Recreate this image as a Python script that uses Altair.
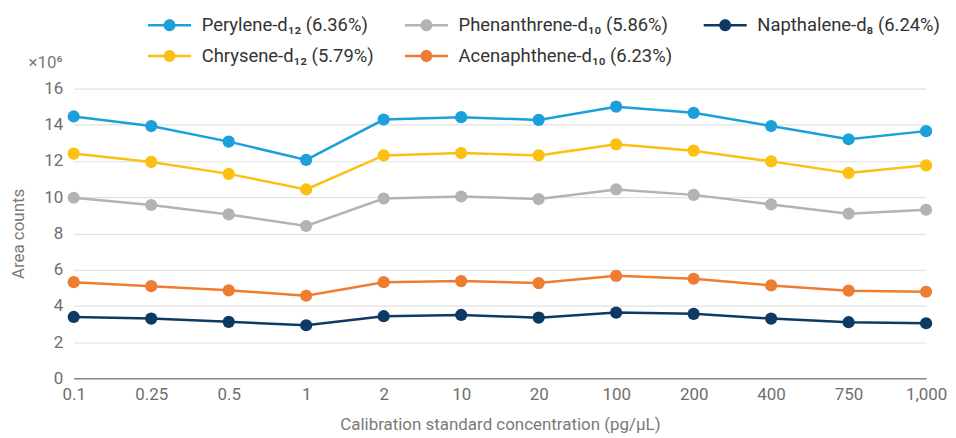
import altair as alt
import pandas as pd

concentrations = ["0.1", "0.25", "0.5", "1", "2", "10", "20", "100", "200", "400", "750", "1,000"]

series_names = [
    "Perylene-d₁₂ (6.36%)",
    "Phenanthrene-d₁₀ (5.86%)",
    "Napthalene-d₈ (6.24%)",
    "Chrysene-d₁₂ (5.79%)",
    "Acenaphthene-d₁₀ (6.23%)",
]
series_colors = ["#1ba0db", "#b2b3b5", "#0d3a62", "#fcc012", "#ef7d31"]

perylene = [14.46, 13.93, 13.07, 12.06, 14.29, 14.42, 14.27, 15.00, 14.66, 13.93, 13.20, 13.65]
phenanthrene = [9.97, 9.57, 9.05, 8.41, 9.93, 10.04, 9.90, 10.43, 10.13, 9.60, 9.09, 9.31]
napthalene = [3.39, 3.30, 3.12, 2.93, 3.43, 3.50, 3.35, 3.63, 3.56, 3.30, 3.10, 3.04]
chrysene = [12.41, 11.95, 11.29, 10.43, 12.31, 12.44, 12.31, 12.92, 12.57, 11.98, 11.34, 11.76]
acenaphthene = [5.31, 5.09, 4.86, 4.56, 5.31, 5.37, 5.26, 5.66, 5.50, 5.13, 4.84, 4.78]

all_values = [perylene, phenanthrene, napthalene, chrysene, acenaphthene]

rows = []
for name, vals in zip(series_names, all_values):
    for c, v in zip(concentrations, vals):
        rows.append({"conc": c, "value": v, "series": name})
df = pd.DataFrame(rows)

color_scale = alt.Scale(domain=series_names, range=series_colors)

legend_path = (
    "M-3.6,-0.22 L-0.9,-0.22 L-0.9,0.22 L-3.6,0.22 Z "
    "M0.9,-0.22 L3.6,-0.22 L3.6,0.22 L0.9,0.22 Z "
    "M1,0 A1,1 0 1,1 -1,0 A1,1 0 1,1 1,0 Z"
)

legend = alt.Legend(
    title=None,
    orient="none",
    legendX=87,
    legendY=-73,
    columns=3,
    direction="horizontal",
    symbolType=legend_path,
    symbolSize=144,
    symbolStrokeWidth=0,
    symbolOpacity=1,
    labelOffset=23,
    columnPadding=30,
    rowPadding=12,
    labelFontSize=18.5,
    labelFont="Roboto",
    labelColor="#333333",
    labelLimit=400,
)

x_enc = alt.X(
    "conc:N",
    sort=concentrations,
    scale=alt.Scale(type="point", padding=0),
    axis=alt.Axis(
        title="Calibration standard concentration (pg/μL)",
        labelAngle=0,
        ticks=False,
        grid=False,
        labelPadding=8,
        titlePadding=14,
        domainColor="#8a8a8a",
        domainWidth=1.5,
    ),
)
y_enc = alt.Y(
    "value:Q",
    scale=alt.Scale(domain=[0, 16]),
    axis=alt.Axis(
        title="Area counts",
        values=[0, 2, 4, 6, 8, 10, 12, 14, 16],
        ticks=False,
        domain=False,
        labelPadding=11,
        titlePadding=16,
        gridColor="#e2e2e2",
        gridWidth=1.2,
    ),
)
color_enc = alt.Color("series:N", scale=color_scale, sort=series_names, legend=legend)

base = alt.Chart(df)

lines = base.mark_line(strokeWidth=2.5).encode(
    x=x_enc,
    y=y_enc,
    color=color_enc,
)

points = base.mark_point(filled=True, size=150, opacity=1).encode(
    x=x_enc,
    y=y_enc,
    color=color_enc,
)

exp_df = pd.DataFrame({"t": ["×10⁶"]})
exp_text = alt.Chart(exp_df).mark_text(
    align="right", baseline="middle", fontSize=17, font="Roboto", color="#7a7a7a"
).encode(text="t:N", x=alt.value(-11), y=alt.value(-26))

chart = (
    alt.layer(lines, points, exp_text)
    .properties(
        width=856,
        height=291,
        autosize=alt.AutoSizeParams(type="none"),
        padding={"left": 66, "top": 80, "right": 22, "bottom": 56},
    )
    .configure_axis(
        labelFont="Roboto",
        titleFont="Roboto",
        labelFontSize=17,
        titleFontSize=17,
        labelColor="#6e6e6e",
        titleColor="#7a7a7a",
        titleFontWeight="normal",
    )
    .configure_view(stroke=None)
)

chart.save("out.html", embed_options={"renderer": "svg", "actions": False})
